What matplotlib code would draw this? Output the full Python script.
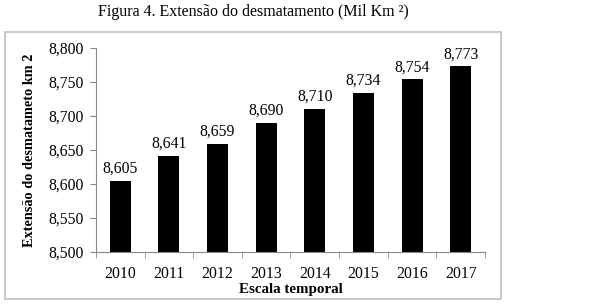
import matplotlib.pyplot as plt
import numpy as np
from matplotlib.patches import Rectangle

years = ['2010', '2011', '2012', '2013', '2014', '2015', '2016', '2017']
values = [8605, 8641, 8659, 8690, 8710, 8734, 8754, 8773]
yticks = [8500, 8550, 8600, 8650, 8700, 8750, 8800]

plt.rcParams['font.family'] = 'Liberation Serif'

fig = plt.figure(figsize=(6.14, 3.05), dpi=100)
ax = fig.add_axes([96/614, 1-252/305, 389/614, 204/305])

x = np.arange(len(years))
ax.bar(x, values, width=0.43, color='black', zorder=2)
for xi, v in zip(x, values):
    ax.text(xi, v + 6, '{:,.0f}'.format(v), ha='center', va='bottom', fontsize=11.3)

ax.set_xlim(-0.5, len(years) - 0.5)
ax.set_ylim(8500, 8800)
ax.set_yticks(yticks)
ax.set_yticklabels(['{:,.0f}'.format(t) for t in yticks], fontsize=11.3)
ax.set_xticks(x)
ax.set_xticklabels(years, fontsize=11.3)
ax.set_xticks(np.arange(-0.5, len(years)), minor=True)
ax.tick_params(axis='x', which='major', length=0, pad=10)
ax.tick_params(axis='x', which='minor', length=4, color='#888888')
ax.tick_params(axis='y', length=4, color='#888888', pad=5)

for s in ['top', 'right']:
    ax.spines[s].set_visible(False)
for s in ['left', 'bottom']:
    ax.spines[s].set_color('#888888')

ax.set_xlabel('Escala temporal', fontsize=10.8, fontweight='bold', labelpad=1)
ax.set_ylabel('Extensão do desmatameto km 2', fontsize=10.3, fontweight='bold', labelpad=9)

fig.patches.append(Rectangle((5/614, 6/305), 496/614, 267/305, transform=fig.transFigure,
                             fill=False, edgecolor='#c0c0c0', linewidth=1.2))
fig.text(253/614, 1 - 16/305, 'Figura 4. Extensão do desmatamento (Mil Km ²)',
         ha='center', va='baseline', fontsize=11.5)

fig.savefig('out.png', dpi=100)
